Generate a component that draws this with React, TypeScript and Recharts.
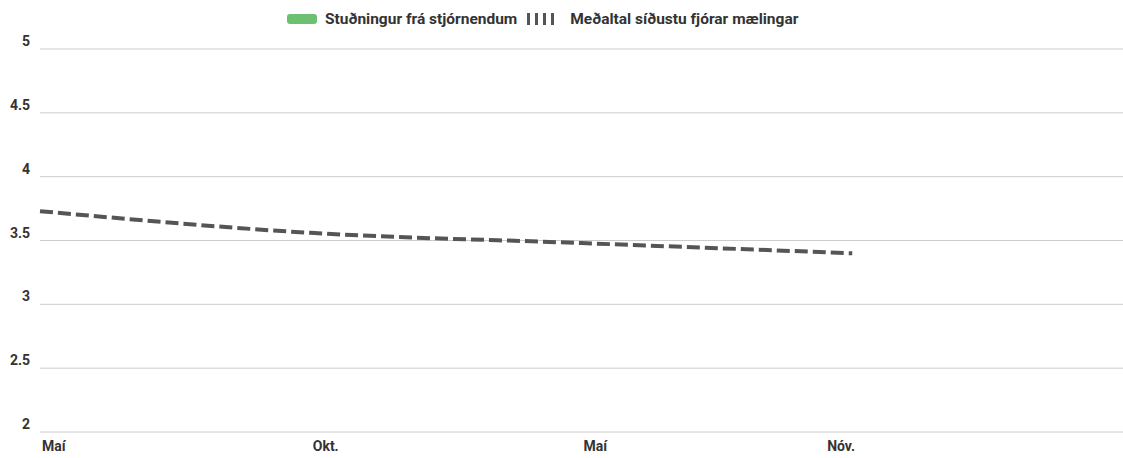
import { LineChart, Line, XAxis, YAxis, CartesianGrid, Legend } from 'recharts'

// x positions of the measurements (index along the axis)
const pointIndex = [0, 1, 2, 3]
const averageValues = [3.73, 3.56, 3.48, 3.4]
const supportValues: (number | null)[] = [null, null, null, null]

const xTickValues = [0, 1, 2, 2.9]
const xTickLabels = ['Maí', 'Okt.', 'Maí', 'Nóv.']
const yTicks = [2, 2.5, 3, 3.5, 4, 4.5, 5]

const seriesNames = ['Stuðningur frá stjórnendum', 'Meðaltal síðustu fjórar mælingar']

const FONT = 'Roboto, sans-serif'

const chartData = pointIndex.map((x, i) => ({
  x,
  support: supportValues[i],
  average: averageValues[i],
}))

function XTick({ x, y, payload }: any) {
  const idx = xTickValues.indexOf(payload.value)
  return (
    <text x={x + 2} y={y + 11} textAnchor="start" fontFamily={FONT} fontWeight={700} fontSize={14} fill="#333">
      {xTickLabels[idx]}
    </text>
  )
}

function YTick({ y, payload }: any) {
  return (
    <text x={30} y={y - 3} textAnchor="end" fontFamily={FONT} fontWeight={700} fontSize={14} fill="#333">
      {payload.value}
    </text>
  )
}

function LegendContent() {
  return (
    <div
      style={{
        position: 'absolute',
        left: 287,
        top: 0,
        display: 'flex',
        alignItems: 'center',
        fontFamily: FONT,
        fontWeight: 700,
        fontSize: 15.5,
        color: '#333',
        whiteSpace: 'nowrap',
      }}
    >
      <span style={{ width: 30, height: 10, background: '#6cc070', borderRadius: 3, marginRight: 8 }} />
      <span style={{ marginRight: 10 }}>{seriesNames[0]}</span>
      <span style={{ display: 'flex', gap: 5, marginRight: 16 }}>
        {[0, 1, 2, 3].map((k) => (
          <span key={k} style={{ width: 3, height: 12, background: '#555' }} />
        ))}
      </span>
      <span>{seriesNames[1]}</span>
    </div>
  )
}

export default function App() {
  return (
    <div style={{ position: 'absolute', left: 0, top: 0, width: 1123, height: 458, background: '#fff' }}>
      <LineChart width={1123} height={458} data={chartData} margin={{ top: 49, right: 0, left: 0, bottom: 0 }}>
        <CartesianGrid horizontal vertical={false} stroke="#cccccc" />
        <XAxis
          dataKey="x"
          type="number"
          domain={[0, 4]}
          ticks={xTickValues}
          tick={<XTick />}
          axisLine={false}
          tickLine={false}
          height={26}
        />
        <YAxis
          domain={[2, 5]}
          ticks={yTicks}
          tick={<YTick />}
          axisLine={false}
          tickLine={false}
          width={40}
        />
        <Legend
          verticalAlign="top"
          content={<LegendContent />}
          wrapperStyle={{ position: 'absolute', top: 10, left: 0, height: 0 }}
          height={0}
        />
        <Line
          dataKey="support"
          stroke="#6cc070"
          strokeWidth={3}
          dot={false}
          isAnimationActive={false}
        />
        <Line
          type="monotone"
          dataKey="average"
          stroke="#555555"
          strokeWidth={4}
          strokeDasharray="13 5"
          dot={false}
          isAnimationActive={false}
        />
      </LineChart>
    </div>
  )
}
